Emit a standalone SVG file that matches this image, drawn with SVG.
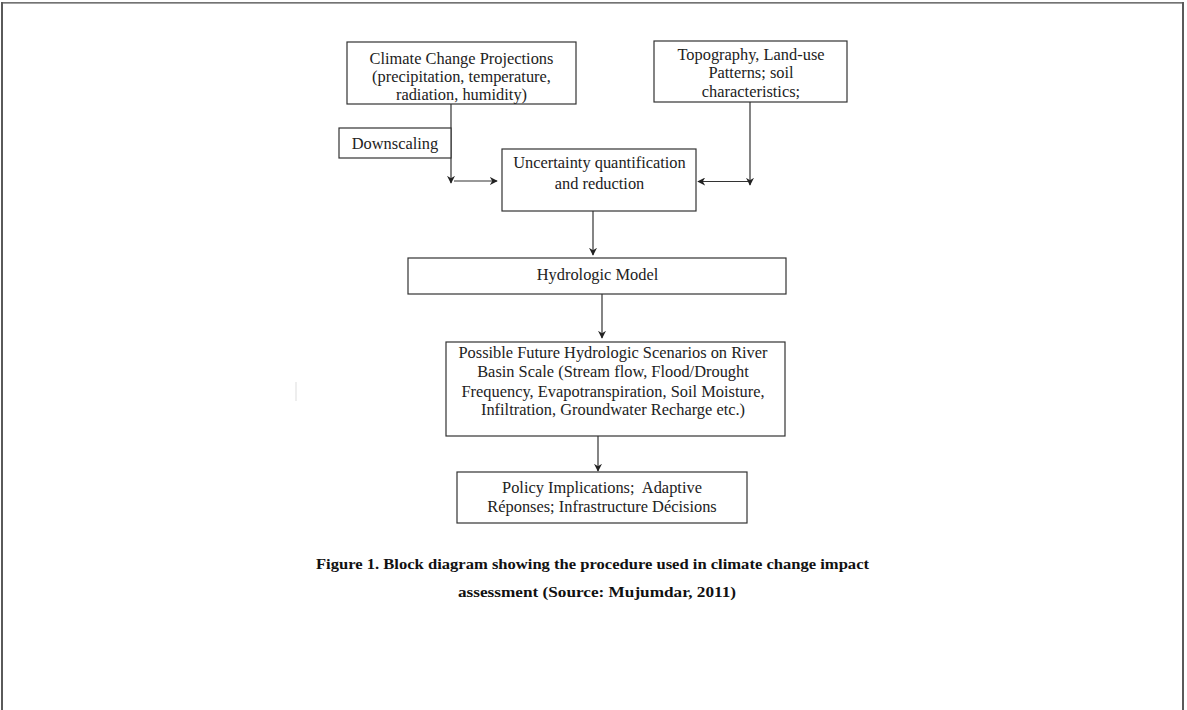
<svg xmlns="http://www.w3.org/2000/svg" width="1187" height="710" viewBox="0 0 1187 710">
<style>
.box{fill:#fff;stroke:#333;stroke-width:1.2}
.t{font-family:"Liberation Serif","Times New Roman",serif;font-size:16.4px;fill:#222;text-anchor:middle}
.cap{font-family:"Liberation Serif","Times New Roman",serif;font-size:15.5px;font-weight:bold;fill:#111;text-anchor:middle}
.c{stroke:#333;stroke-width:1.2;fill:none;marker-end:url(#ah)}
</style>
<defs>
<marker id="ah" viewBox="0 0 10 10" refX="9" refY="5" markerWidth="8" markerHeight="8" markerUnits="userSpaceOnUse" orient="auto">
<path d="M0,0 L10,5 L0,10 L3,5 Z" fill="#222"/>
</marker>
<clipPath id="clipClimate"><rect x="347" y="42" width="229" height="62"/></clipPath>
</defs>
<rect x="0" y="0" width="1187" height="710" fill="#fff"/>
<g id="frame">
<line x1="1" y1="2.8" x2="1184" y2="2.8" stroke="#444" stroke-width="1.2"/>
<line x1="2" y1="2" x2="2" y2="710" stroke="#5a5a5a" stroke-width="2"/>
<line x1="1183" y1="2" x2="1183" y2="710" stroke="#5a5a5a" stroke-width="2"/>
<line x1="296" y1="382" x2="296" y2="401" stroke="#ddd" stroke-width="1"/>
</g>
<g id="connectors">
<line class="c" x1="451" y1="104" x2="451" y2="183"/>
<line class="c" x1="454" y1="181" x2="497" y2="181"/>
<line class="c" x1="750" y1="102" x2="750" y2="185"/>
<line class="c" x1="748" y1="181.5" x2="698" y2="181.5"/>
<line class="c" x1="593" y1="211" x2="593" y2="255"/>
<line class="c" x1="602" y1="294" x2="602" y2="338"/>
<line class="c" x1="598" y1="436" x2="598" y2="471"/>
</g>
<g id="climate">
<rect class="box" x="347" y="42" width="229" height="62"/>
<g clip-path="url(#clipClimate)">
<text class="t" x="461.5" y="64">Climate Change Projections</text>
<text class="t" x="461.5" y="82">(precipitation, temperature,</text>
<text class="t" x="461.5" y="100">radiation, humidity)</text>
</g>
</g>
<g id="topography">
<rect class="box" x="654" y="41" width="193" height="61"/>
<text class="t" x="751" y="59.5">Topography, Land-use</text>
<text class="t" x="751" y="78">Patterns; soil</text>
<text class="t" x="751" y="96.5">characteristics;</text>
</g>
<g id="downscaling">
<rect class="box" x="339" y="128" width="112" height="30"/>
<text class="t" x="395" y="148.5">Downscaling</text>
</g>
<g id="uncertainty">
<rect class="box" x="502" y="149" width="194" height="62"/>
<text class="t" x="599.5" y="168">Uncertainty quantification</text>
<text class="t" x="599.5" y="189">and reduction</text>
</g>
<g id="hydrologic">
<rect class="box" x="408" y="258" width="378" height="36"/>
<text class="t" x="597.5" y="280">Hydrologic Model</text>
</g>
<g id="scenarios">
<rect class="box" x="446" y="342" width="339" height="94"/>
<text class="t" x="613" y="358">Possible Future Hydrologic Scenarios on River</text>
<text class="t" x="613" y="377">Basin Scale (Stream flow, Flood/Drought</text>
<text class="t" x="613" y="396.5">Frequency, Evapotranspiration, Soil Moisture,</text>
<text class="t" x="613" y="415">Infiltration, Groundwater Recharge etc.)</text>
</g>
<g id="policy">
<rect class="box" x="457" y="472" width="290" height="51"/>
<text class="t" x="602" y="493" xml:space="preserve">Policy Implications;  Adaptive</text>
<text class="t" x="602" y="512">Réponses; Infrastructure Décisions</text>
</g>
<g id="caption">
<text class="cap" x="592.5" y="569" textLength="553" lengthAdjust="spacingAndGlyphs">Figure 1. Block diagram showing the procedure used in climate change impact</text>
<text class="cap" x="597" y="597" textLength="278" lengthAdjust="spacingAndGlyphs">assessment (Source: Mujumdar, 2011)</text>
</g>
</svg>
